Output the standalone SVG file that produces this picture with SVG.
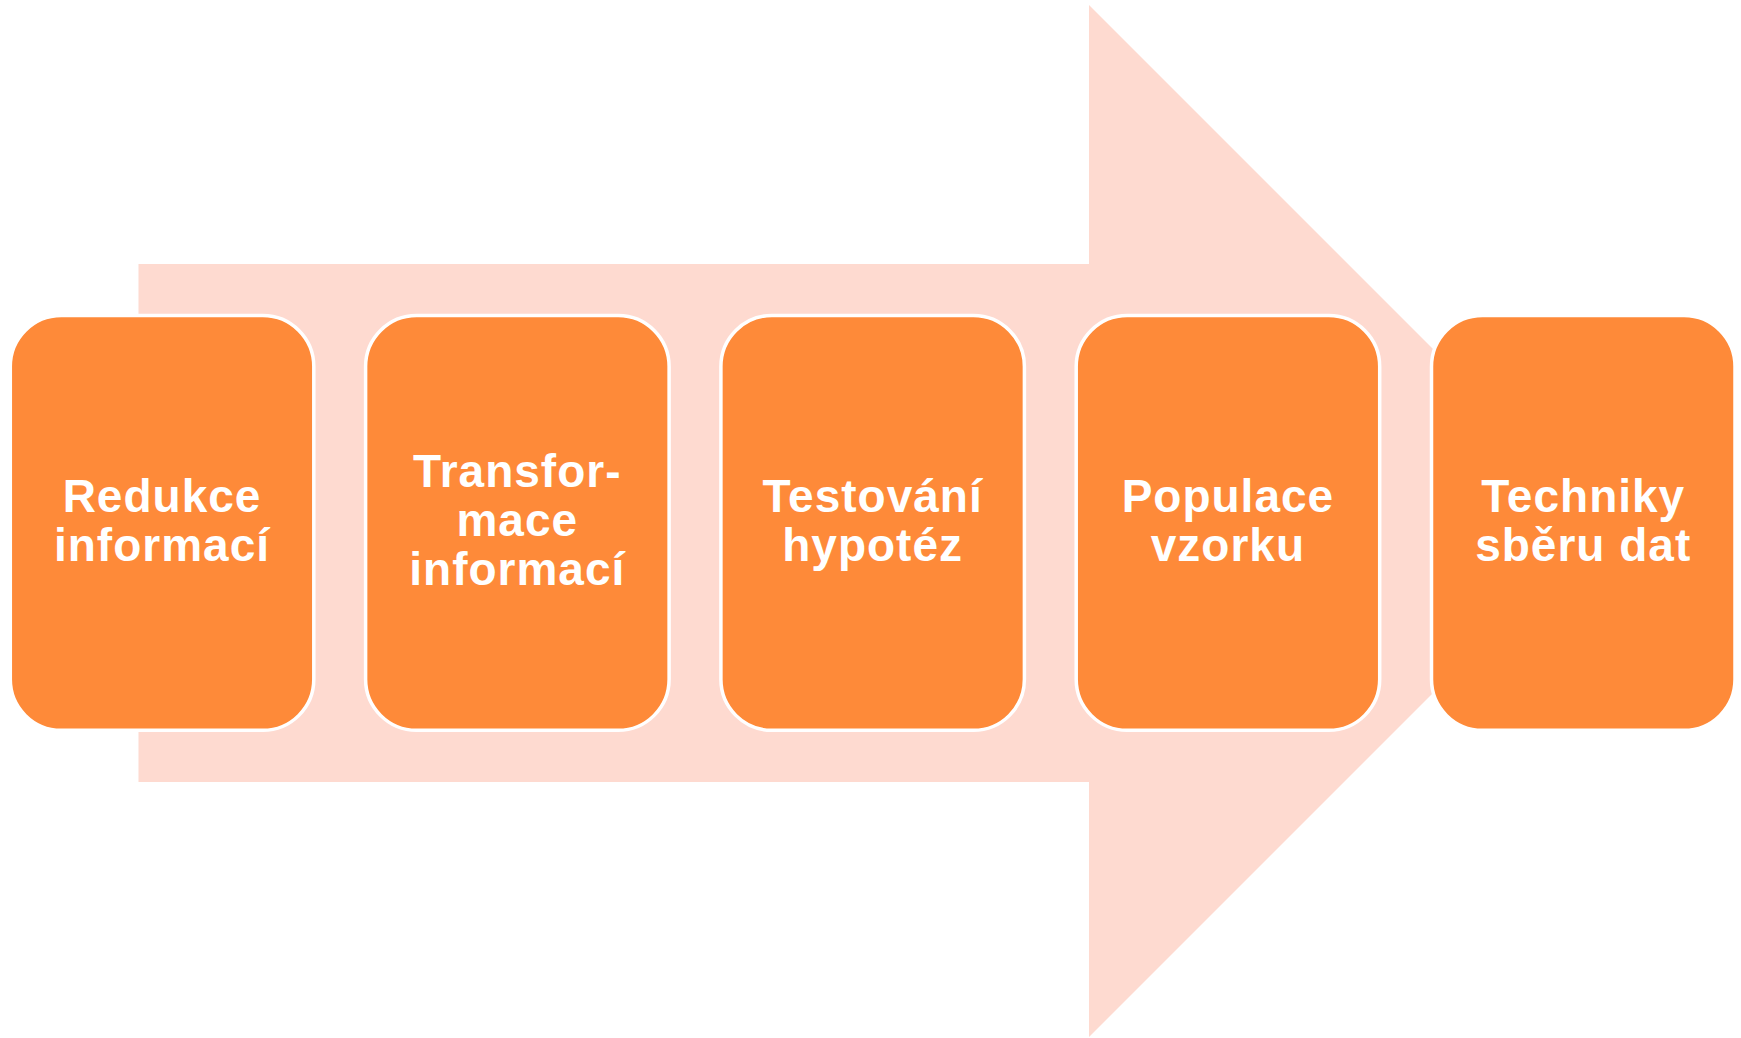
<svg xmlns="http://www.w3.org/2000/svg" width="1741" height="1038" viewBox="0 0 1741 1038">
<style>
.box{fill:#FE8A39;stroke:#FFFFFF;stroke-width:3.5}
.lbl{font-family:"Liberation Sans",Arial,sans-serif;font-weight:bold;font-size:46px;fill:#FFFFFF;text-anchor:middle;letter-spacing:1px}
</style>
<rect width="1741" height="1038" fill="#FFFFFF"/>
<g id="arrow">
<polygon points="138.5,264 1089,264 1089,5 1605,521 1089,1037 1089,782 138.5,782" fill="#FEDAD0"/>
</g>
<g id="connectors"></g>
<g id="n1">
<rect class="box" x="10.3" y="315.5" width="303.5" height="414.8" rx="51"/>
<text class="lbl" x="162" y="512">Redukce</text>
<text class="lbl" x="162" y="561">informací</text>
</g>
<g id="n2">
<rect class="box" x="365.6" y="315.5" width="303.5" height="414.8" rx="51"/>
<text class="lbl" x="517.3" y="487">Transfor-</text>
<text class="lbl" x="517.3" y="536">mace</text>
<text class="lbl" x="517.3" y="585">informací</text>
</g>
<g id="n3">
<rect class="box" x="720.9" y="315.5" width="303.5" height="414.8" rx="51"/>
<text class="lbl" x="872.6" y="512">Testování</text>
<text class="lbl" x="872.6" y="561">hypotéz</text>
</g>
<g id="n4">
<rect class="box" x="1076.2" y="315.5" width="303.5" height="414.8" rx="51"/>
<text class="lbl" x="1227.9" y="512">Populace</text>
<text class="lbl" x="1227.9" y="561">vzorku</text>
</g>
<g id="n5">
<rect class="box" x="1431.5" y="315.5" width="303.5" height="414.8" rx="51"/>
<text class="lbl" x="1583.2" y="512">Techniky</text>
<text class="lbl" x="1583.2" y="561">sběru dat</text>
</g>
</svg>
